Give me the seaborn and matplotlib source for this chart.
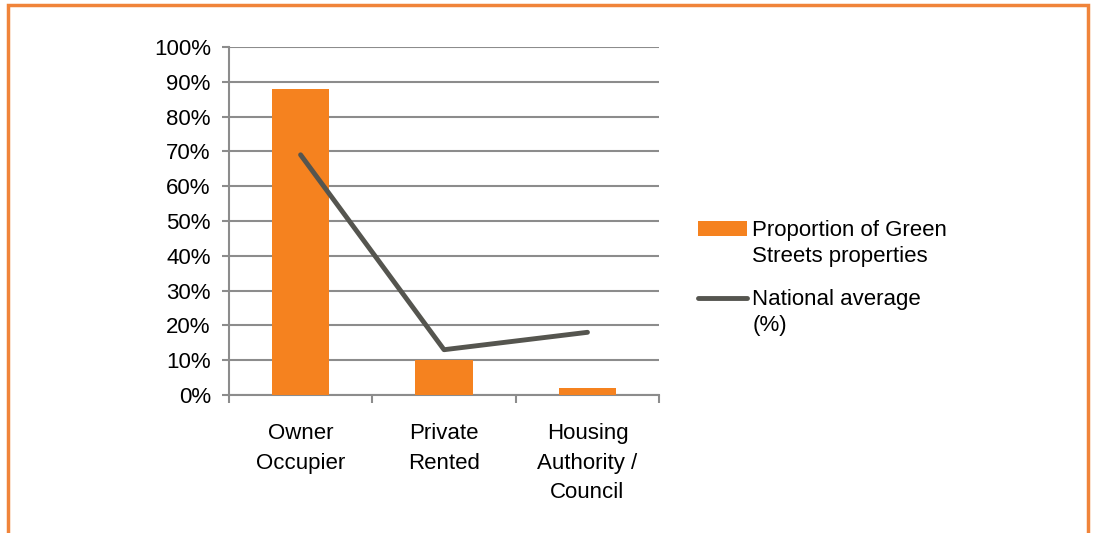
import numpy as np
import pandas as pd
import matplotlib
matplotlib.use("Agg")
import matplotlib.pyplot as plt
import seaborn as sns
from matplotlib.patches import Rectangle, Patch
from matplotlib.lines import Line2D
from matplotlib.ticker import PercentFormatter
from matplotlib.transforms import Affine2D
from matplotlib.legend_handler import HandlerPatch, HandlerLine2D

# data
categories = ["Owner\nOccupier", "Private\nRented", "Housing\nAuthority /\nCouncil"]
green_streets = [88, 10, 2]
national_avg = [69, 13, 18]
legend_labels = ["Proportion of Green\nStreets properties", "National average\n(%)"]

orange = "#F5821F"
dark = "#55554F"
grid_col = "#8C8C8C"

sns.set_theme(style="white")
plt.rcParams["font.family"] = ["Liberation Sans", "DejaVu Sans"]
plt.rcParams["text.color"] = "black"
plt.rcParams["xtick.color"] = "black"
plt.rcParams["ytick.color"] = "black"


# legend keys sit level with the first line of the label, like Excel does
class UpPatch(HandlerPatch):
    def create_artists(self, legend, orig_handle, xd, yd, w, h, fs, trans):
        return super().create_artists(legend, orig_handle, xd, yd, w, h, fs,
                                      Affine2D().translate(0, 11) + trans)


class UpLine(HandlerLine2D):
    def create_artists(self, legend, orig_handle, xd, yd, w, h, fs, trans):
        return super().create_artists(legend, orig_handle, xd, yd, w, h, fs,
                                      Affine2D().translate(0, 10.5) + trans)


df = pd.DataFrame({"cat": categories, "green": green_streets, "nat": national_avg})

fig = plt.figure(figsize=(10.95, 5.33), dpi=100)
ax = fig.add_axes([0.209, 0.259, 0.393, 0.653])

sns.barplot(data=df, x="cat", y="green", color=orange, width=0.4,
            saturation=1, linewidth=0, ax=ax, zorder=3)
sns.lineplot(data=df, x="cat", y="nat", sort=False, color=dark,
             linewidth=3.5, ax=ax, zorder=4)

ax.set_ylim(0, 100)
ax.set_xlim(-0.5, 2.5)
ax.set_yticks(np.arange(0, 101, 10))
ax.yaxis.set_major_formatter(PercentFormatter(decimals=0))
ax.yaxis.grid(True, color=grid_col, linewidth=1.5, zorder=0)
ax.set_xlabel("")
ax.set_ylabel("")
ax.set_xticks([0, 1, 2], categories, linespacing=1.55)

for s in ["top", "right"]:
    ax.spines[s].set_visible(False)
for s in ["left", "bottom"]:
    ax.spines[s].set_color(grid_col)
    ax.spines[s].set_linewidth(1.5)

ax.tick_params(axis="y", which="major", left=True, length=5, width=1.5,
               color=grid_col, labelsize=16, pad=8, labelcolor="black")
ax.tick_params(axis="x", which="major", bottom=False, labelsize=16, pad=14,
               labelcolor="black")
ax.set_xticks([-0.5, 0.5, 1.5, 2.5], minor=True)
ax.tick_params(axis="x", which="minor", bottom=True, length=6, width=1.5,
               color=grid_col)

bar_key = Patch(facecolor=orange, edgecolor="none")
line_key = Line2D([0], [0], color=dark, linewidth=3.5)
leg = fig.legend([bar_key, line_key], legend_labels, loc="upper left",
                 bbox_to_anchor=(0.619, 0.625), frameon=False, fontsize=16,
                 handlelength=2.2, handletextpad=0.25, labelspacing=0.95,
                 handler_map={bar_key: UpPatch(), line_key: UpLine()})
for t in leg.get_texts():
    t.set_linespacing(1.35)

# orange frame around the figure (bottom edge runs off the page)
fig.patches.append(Rectangle((0.0075, -0.05), 0.986, 1.04,
                             transform=fig.transFigure, fill=False,
                             edgecolor="#F0843A", linewidth=2.5))

fig.savefig("out.png", dpi=100)
